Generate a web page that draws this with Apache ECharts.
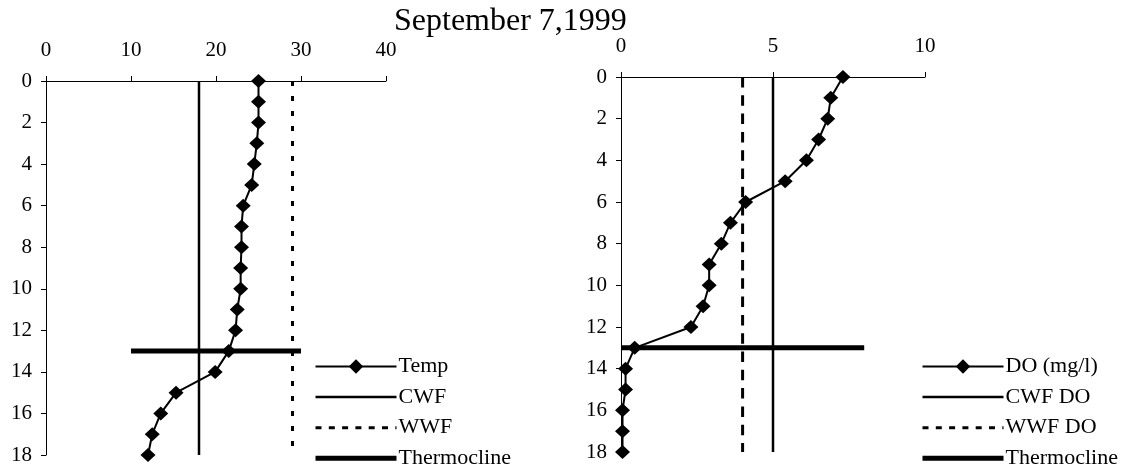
<!DOCTYPE html>
<html>
<head>
<meta charset="utf-8">
<script src="https://cdn.jsdelivr.net/npm/echarts@6/dist/echarts.min.js"></script>
<style>
  html, body { margin: 0; padding: 0; background: #fff; }
  #chart { width: 1123px; height: 473px; }
</style>
</head>
<body>
<div id="chart"></div>
<script>
// Lake profile, September 7, 1999: depth (m) vs temperature and dissolved oxygen
const depths = [0, 1, 2, 3, 4, 5, 6, 7, 8, 9, 10, 11, 12, 13, 14, 15, 16, 17, 18];
const temperature = [25.0, 25.0, 25.0, 24.8, 24.5, 24.2, 23.2, 23.0, 23.0, 22.9, 22.9, 22.5, 22.3, 21.5, 19.9, 15.3, 13.5, 12.5, 12.0];
const dissolvedOxygen = [7.3, 6.9, 6.8, 6.5, 6.1, 5.4, 4.1, 3.6, 3.3, 2.9, 2.9, 2.7, 2.3, 0.45, 0.15, 0.15, 0.05, 0.05, 0.05];

// Criteria lines (cold / warm water fishery) and thermocline depth
const cwfTemp = 18;
const wwfTemp = 29;
const cwfDO = 5;
const wwfDO = 4;
const thermoclineDepth = 13;
const thermoclineTempSpan = [10, 30];
const thermoclineDOSpan = [0, 8];

// Axis ranges / tick steps
const tempAxis = { min: 0, max: 40, step: 10 };
const doAxis = { min: 0, max: 10, step: 5 };
const depthAxis = { min: 0, max: 18, step: 2 };

const serif = '"Liberation Serif", "Times New Roman", serif';
const depthBottom = depths[depths.length - 1];

const pairs = (xs) => xs.map((x, i) => [x, depths[i]]);
const vertical = (x) => [[x, depthAxis.min], [x, depthBottom]];
const horizontal = (span) => [[span[0], thermoclineDepth], [span[1], thermoclineDepth]];

function xAxisFor(gridIndex, ax) {
  return {
    type: 'value', gridIndex, position: 'top',
    min: ax.min, max: ax.max, interval: ax.step,
    axisLine: { show: true, onZero: false, lineStyle: { color: '#000', width: 1 } },
    axisTick: { show: true, inside: false, length: 5, lineStyle: { color: '#000' } },
    axisLabel: { margin: 20, color: '#000', fontFamily: serif, fontSize: 21 },
    splitLine: { show: false }
  };
}
function yAxisFor(gridIndex) {
  return {
    type: 'value', gridIndex, inverse: true,
    min: depthAxis.min, max: depthAxis.max, interval: depthAxis.step,
    axisLine: { show: true, onZero: false, lineStyle: { color: '#000', width: 1 } },
    axisTick: { show: true, inside: false, length: 5, lineStyle: { color: '#000' } },
    axisLabel: { margin: 14, color: '#000', fontFamily: serif, fontSize: 21 },
    splitLine: { show: false }
  };
}
function refLine(name, idx, data, width, type) {
  return {
    name, type: 'line', xAxisIndex: idx, yAxisIndex: idx, data,
    symbol: 'none', silent: true,
    itemStyle: { color: '#000' },
    lineStyle: { color: '#000', width, type: type || 'solid', cap: 'butt' }
  };
}
function profile(name, idx, values) {
  return {
    name, type: 'line', xAxisIndex: idx, yAxisIndex: idx, data: pairs(values),
    symbol: 'diamond', symbolSize: [15, 14], z: 5,
    itemStyle: { color: '#000' },
    lineStyle: { color: '#000', width: 2 }
  };
}
// plain line samples carry no marker in the key
const noMarker = { color: 'rgba(0,0,0,0)', borderColor: 'rgba(0,0,0,0)', borderWidth: 0, opacity: 0 };
function legendFor(left, names, dash) {
  return {
    orient: 'vertical', left, top: 355.5, padding: 0, height: 117,
    itemWidth: 81, itemHeight: 18, itemGap: 8.6,
    textStyle: { color: '#000', fontFamily: serif, fontSize: 22, padding: [0, 0, 0, -3] },
    data: [
      { name: names[0], lineStyle: { width: 2 } },
      { name: names[1], lineStyle: { width: 2.5 }, itemStyle: noMarker },
      { name: names[2], lineStyle: { width: 3, type: dash }, itemStyle: noMarker },
      { name: names[3], lineStyle: { width: 5 }, itemStyle: noMarker }
    ]
  };
}

const chart = echarts.init(document.getElementById('chart'), null, { renderer: 'canvas' });
chart.setOption({
  animation: false,
  backgroundColor: '#fff',
  title: {
    text: 'September 7,1999', left: 394, top: 6, padding: 0,
    textStyle: { color: '#000', fontFamily: serif, fontSize: 32, fontWeight: 'normal' }
  },
  grid: [
    { left: 46, top: 81, width: 340, height: 374 },
    { left: 621, top: 77, width: 304, height: 375 }
  ],
  xAxis: [xAxisFor(0, tempAxis), xAxisFor(1, doAxis)],
  yAxis: [yAxisFor(0), yAxisFor(1)],
  legend: [
    legendFor(313, ['Temp', 'CWF', 'WWF', 'Thermocline'], [6, 7.3]),
    legendFor(920, ['DO (mg/l)', 'CWF DO', 'WWF DO', 'Thermocline'], [6, 7.3])
  ],
  series: [
    refLine('CWF', 0, vertical(cwfTemp), 2.5),
    refLine('WWF', 0, vertical(wwfTemp), 3, [5, 10]),
    refLine('Thermocline', 0, horizontal(thermoclineTempSpan), 5),
    profile('Temp', 0, temperature),
    refLine('CWF DO', 1, vertical(cwfDO), 2.5),
    refLine('WWF DO', 1, vertical(wwfDO), 3, [10.5, 7.8]),
    refLine('Thermocline', 1, horizontal(thermoclineDOSpan), 5),
    profile('DO (mg/l)', 1, dissolvedOxygen)
  ]
});
</script>
</body>
</html>
